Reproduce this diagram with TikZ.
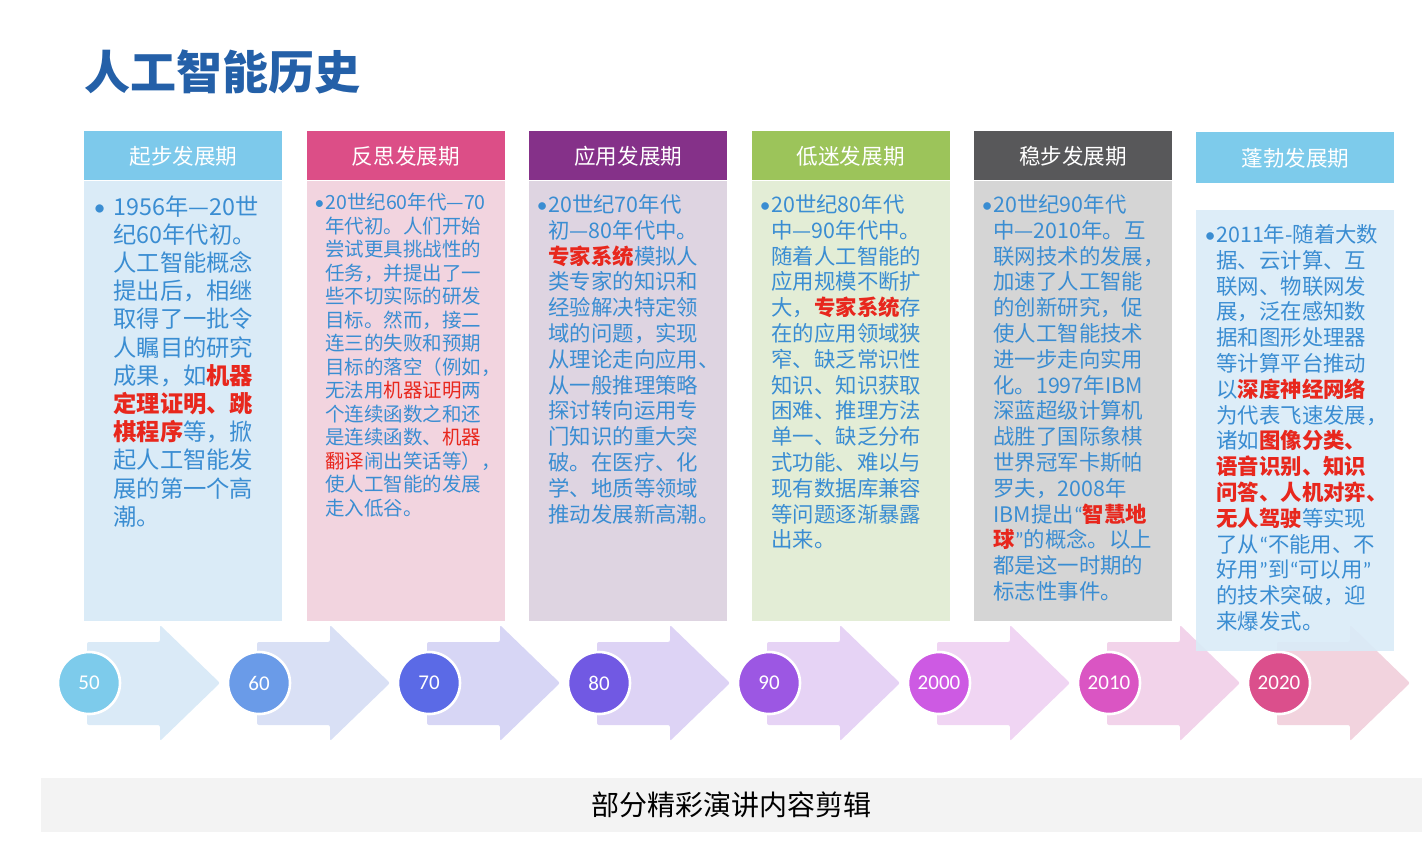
\documentclass[tikz,border=0pt]{standalone}
\usepackage{fontspec}
\setmainfont{Noto Sans CJK SC}
\newfontfamily\numfont{Carlito}
\usetikzlibrary{positioning}

\definecolor{titleblue}{HTML}{2460A8}
\definecolor{textblue}{HTML}{3A8DD2}
\definecolor{hired}{HTML}{E8271D}
\definecolor{capgray}{HTML}{F3F3F3}
% header / body colours of the six phases
\definecolor{hdc1}{HTML}{7DC9EB}
\definecolor{hdc2}{HTML}{DC4E87}
\definecolor{hdc3}{HTML}{853189}
\definecolor{hdc4}{HTML}{9CC45A}
\definecolor{hdc5}{HTML}{58585A}
\definecolor{hdc6}{HTML}{7DCBEB}
\definecolor{bdc1}{HTML}{DAEBF7}
\definecolor{bdc2}{HTML}{F2D4DF}
\definecolor{bdc3}{HTML}{DED4E1}
\definecolor{bdc4}{HTML}{E3EDD6}
\definecolor{bdc5}{HTML}{D5D5D5}
\definecolor{bdc6}{HTML}{DAEBF7}
% timeline colours
\definecolor{arc1}{HTML}{DAEAF7}
\definecolor{arc2}{HTML}{D9E0F5}
\definecolor{arc3}{HTML}{D7D6F5}
\definecolor{arc4}{HTML}{DDD3F5}
\definecolor{arc5}{HTML}{E6D3F5}
\definecolor{arc6}{HTML}{F0D5F3}
\definecolor{arc7}{HTML}{F2D3EA}
\definecolor{arc8}{HTML}{F2D3DE}
\definecolor{ycc1}{HTML}{7DCBEB}
\definecolor{ycc2}{HTML}{6A9BE8}
\definecolor{ycc3}{HTML}{5B6AE6}
\definecolor{ycc4}{HTML}{7159E3}
\definecolor{ycc5}{HTML}{9C57E3}
\definecolor{ycc6}{HTML}{CD5AE3}
\definecolor{ycc7}{HTML}{DA55C3}
\definecolor{ycc8}{HTML}{DB4F8C}

\newcommand{\redbf}[1]{{\color{hired}\bfseries #1}}
\newcommand{\redtx}[1]{{\color{hired}#1}}
\newcommand{\dotmark}{\llap{{\numfont •}\hspace{0.5pt}}}

\tikzset{
  phasehead/.style={fill=#1,text=white,minimum width=99pt,minimum height=24.5pt,inner sep=0pt,font=\fontsize{10.8}{12}\selectfont},
  phasebody/.style={fill=#1,minimum width=99pt,minimum height=220pt,inner sep=0pt},
  phasetext/.style={anchor=north west,inner sep=0pt,align=left,text=textblue},
  yearball/.style={circle,fill=#1,draw=white,line width=1.3pt,minimum size=31pt,inner sep=0pt,text=white,font=\numfont\fontsize{10.5}{12}\selectfont},
}

\begin{document}
\begin{tikzpicture}[x=0.5pt,y=-0.5pt]
\useasboundingbox (0,0) rectangle (1422,842);

% timeline arrows and years
\foreach \i/\ac in {0/arc1,1/arc2,2/arc3,3/arc4,4/arc5,5/arc6,6/arc7,7/arc8}
\fill[\ac,rounded corners=1pt] ({87+170*\i},642) -- ++(73,0) -- ++(0,-17) -- ++(60,58) -- ++(-60,58) -- ++(0,-16) -- ++(-73,0) -- cycle;
\foreach \i/\yr/\cc in {0/50/ycc1,1/60/ycc2,2/70/ycc3,3/80/ycc4,4/90/ycc5,5/2000/ycc6,6/2010/ycc7,7/2020/ycc8}
\node[yearball=\cc] (y\yr) at ({89+170*\i},683) {\yr};

% title
\node[anchor=west,inner sep=0pt,text=titleblue,font=\bfseries\fontsize{23}{26}\selectfont] (title) at (84,72) {人工智能历史};

% phase headers and boxes
\foreach \i/\name in {1/起步发展期,2/反思发展期,3/应用发展期,4/低迷发展期,5/稳步发展期}
{
\node[phasehead=hdc\i,anchor=north west] (h\i) at ({84+222.4*(\i-1)},131) {\name};
\node[phasebody=bdc\i,below=0pt of h\i] (b\i) {};
}
\node[phasehead=hdc6,anchor=north west,minimum height=25.5pt] (h6) at (1196,132) {蓬勃发展期};
\node[phasebody=bdc6,anchor=north west,minimum height=220.5pt,fill opacity=0.92] (b6) at (1196,210) {};

\node[phasetext,font=\fontsize{11.65}{14.1}\selectfont] (t1) at (113,195) {\llap{{\numfont •}\hspace{4pt}}1956年—20世\\
纪60年代初。\\
人工智能概念\\
提出后，相继\\
取得了一批令\\
人瞩目的研究\\
成果，如\redbf{机器}\\
\redbf{定理证明、跳}\\
\redbf{棋程序}等，掀\\
起人工智能发\\
展的第一个高\\
潮。};

\node[phasetext,font=\fontsize{9.75}{11.75}\selectfont] (t2) at (325,193) {\dotmark 20世纪60年代—70\\
年代初。人们开始\\
尝试更具挑战性的\\
任务，并提出了一\\
些不切实际的研发\\
目标。然而，接二\\
连三的失败和预期\\
目标的落空（例如，\\
无法用\redtx{机器证明}两\\
个连续函数之和还\\
是连续函数、\redtx{机器}\\
\redtx{翻译}闹出笑话等），\\
使人工智能的发展\\
走入低谷。};

\node[phasetext,font=\fontsize{10.7}{12.9}\selectfont] (t3) at (548,194) {\dotmark 20世纪70年代\\
初—80年代中。\\
\redbf{专家系统}模拟人\\
类专家的知识和\\
经验解决特定领\\
域的问题，实现\\
从理论走向应用、\\
从一般推理策略\\
探讨转向运用专\\
门知识的重大突\\
破。在医疗、化\\
学、地质等领域\\
推动发展新高潮。};

\node[phasetext,font=\fontsize{10.7}{12.9}\selectfont] (t4) at (771,194) {\dotmark 20世纪80年代\\
中—90年代中。\\
随着人工智能的\\
应用规模不断扩\\
大，\redbf{专家系统}存\\
在的应用领域狭\\
窄、缺乏常识性\\
知识、知识获取\\
困难、推理方法\\
单一、缺乏分布\\
式功能、难以与\\
现有数据库兼容\\
等问题逐渐暴露\\
出来。};

\node[phasetext,font=\fontsize{10.7}{12.9}\selectfont] (t5) at (993,194) {\dotmark 20世纪90年代\\
中—2010年。互\\
联网技术的发展，\\
加速了人工智能\\
的创新研究，促\\
使人工智能技术\\
进一步走向实用\\
化。1997年IBM\\
深蓝超级计算机\\
战胜了国际象棋\\
世界冠军卡斯帕\\
罗夫，2008年\\
IBM提出{\numfont “}\redbf{智慧地}\\
\redbf{球}{\numfont ”}的概念。以上\\
都是这一时期的\\
标志性事件。};

\node[phasetext,font=\fontsize{10.7}{12.9}\selectfont] (t6) at (1216,224) {\dotmark 2011年-随着大数\\
据、云计算、互\\
联网、物联网发\\
展，泛在感知数\\
据和图形处理器\\
等计算平台推动\\
以\redbf{深度神经网络}\\
为代表飞速发展，\\
诸如\redbf{图像分类、}\\
\redbf{语音识别、知识}\\
\redbf{问答、人机对弈、}\\
\redbf{无人驾驶}等实现\\
了从{\numfont “}不能用、不\\
好用{\numfont ”}到{\numfont “}可以用{\numfont ”}\\
的技术突破，迎\\
来爆发式。};

% caption bar
\node[fill=capgray,minimum width=690.5pt,minimum height=27pt,inner sep=0pt,font=\fontsize{14}{16}\selectfont] (caption) at (731.5,805) {部分精彩演讲内容剪辑};
\end{tikzpicture}
\end{document}
